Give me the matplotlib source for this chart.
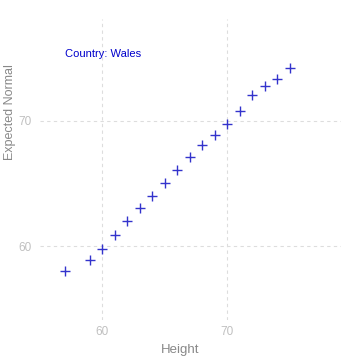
import matplotlib
matplotlib.use('Agg')
import matplotlib.pyplot as plt
from matplotlib.ticker import FixedLocator

plt.rcParams['font.family'] = ['Liberation Sans', 'DejaVu Sans']

height = [57, 59, 60, 61, 62, 63, 64, 65, 66, 67, 68, 69, 70, 71, 72, 73, 74, 75]
expected = [58.03, 58.88, 59.76, 60.9, 62.0, 63.03, 64.01, 65.03, 66.07, 67.1,
            68.06, 68.86, 69.74, 70.8, 72.05, 72.79, 73.33, 74.2]
x_ticks = [60, 70]
y_ticks = [60, 70]
country = 'Wales'

fig = plt.figure(figsize=(3.59, 3.58), dpi=100)
ax = fig.add_axes([40 / 359, 38 / 358, 301 / 359, 301 / 358])

ax.plot(height, expected, linestyle='none', marker='+', markersize=6.5,
        markeredgewidth=1.0, color='#3333cc')

ax.set_xlim(55.0, 79.1)
ax.set_ylim(54.1, 78.1)
ax.xaxis.set_major_locator(FixedLocator(x_ticks))
ax.yaxis.set_major_locator(FixedLocator(y_ticks))
ax.grid(True, color='#dddddd', linestyle=(0, (3, 3)), linewidth=0.8)
for s in ax.spines.values():
    s.set_visible(False)
ax.tick_params(length=0, labelsize=8.5, labelcolor='#c0c0c0')
ax.tick_params(axis='x', pad=4)
ax.tick_params(axis='y', pad=6)

ax.set_xlabel('Height', fontsize=9.5, color='#888888')
ax.set_ylabel('Expected Normal', fontsize=9, color='#888888')
ax.xaxis.set_label_coords(0.466, -0.08)
ax.yaxis.set_label_coords(-0.08, 0.69)

ax.text(0.083, 0.885, 'Country: ' + country, transform=ax.transAxes,
        fontsize=8, color='#0000cc', ha='left', va='center')

fig.savefig('out.png', dpi=100)
